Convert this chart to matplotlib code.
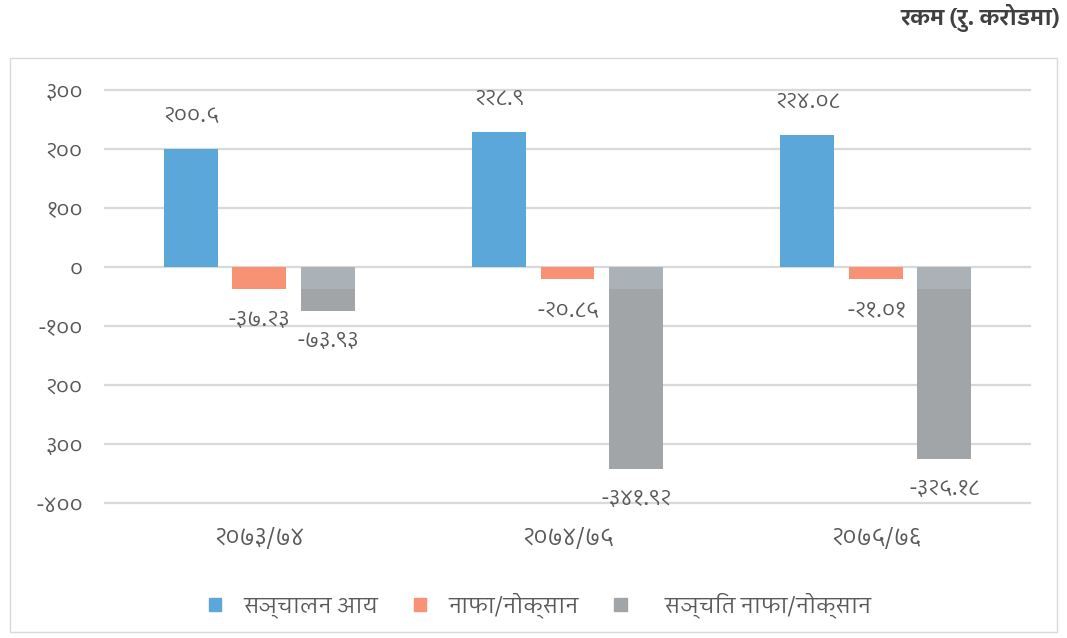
import numpy as np
import matplotlib
matplotlib.use("Agg")
import matplotlib.pyplot as plt
from matplotlib import font_manager
from matplotlib.ft2font import FT2Font
from matplotlib.patches import Rectangle

# Data (रु. करोड)
years = ["२०७३/७४", "२०७४/७५", "२०७५/७६"]
operating_income = [200.5, 228.9, 224.08]
profit_loss = [-37.23, -20.85, -21.01]
cumulative_pl = [-73.93, -341.92, -325.18]
income_labels = ["२००.५", "२२८.९", "२२४.०८"]
pl_labels = ["-३७.२३", "-२०.८५", "-२१.०१"]
cum_labels = ["-७३.९३", "-३४१.९२", "-३२५.१८"]
cum_top_band = [-37, -37, -37]   # lighter top part of the grey bars

yticks = [300, 200, 100, 0, -100, -200, -300, -400]
ytick_labels = ["३००", "२००", "१००", "०", "-१००", "२००", "३००", "-४००"]
legend_names = ["सञ्चालन आय", "नाफा/नोक्सान", "   सञ्चित नाफा/नोक्सान"]
unit_text = "रकम (रु. करोडमा)"

# installed fonts that have Devanagari glyphs, prefer proportional sans
cands = {}
for f in font_manager.fontManager.ttflist:
    try:
        if ord("क") in FT2Font(f.fname).get_charmap():
            cands[f.name] = f.fname
    except Exception:
        pass


def score(name):
    n = name.lower()
    s = 0
    if "mono" in n:
        s -= 10
    if "sans" in n:
        s += 3
    if "devanagari" in n:
        s += 5
    if "ui" in n:
        s -= 1
    return s


names = sorted(cands, key=score, reverse=True)
families = names[:1] + ["DejaVu Sans"]
plt.rcParams["font.family"] = families

blue = "#5BA7DA"
orange = "#F79274"
grey = "#A1A5A8"
grey_light = "#ABB2B7"
text_col = "#595959"

W, H = 1067, 638
fig = plt.figure(figsize=(W / 100, H / 100), dpi=100)
fig.patches.append(Rectangle((10 / W, 1 - 632 / H), 1047 / W, 574 / H,
                             transform=fig.transFigure, fill=False,
                             edgecolor="#D9D9D9", lw=1))
ax = fig.add_axes([105 / W, 1 - 503 / H, 925 / W, 413 / H])

x = np.arange(len(years))
bw = 0.175
off = 0.222
ax.bar(x - off, operating_income, bw, color=blue, zorder=3)
ax.bar(x, profit_loss, bw, color=orange, zorder=3)
ax.bar(x + off, cumulative_pl, bw, color=grey, zorder=3)
ax.bar(x + off, cum_top_band, bw, color=grey_light, zorder=3)

for i in range(len(years)):
    ax.annotate(income_labels[i], (x[i] - off, operating_income[i]), xytext=(0, 24),
                textcoords="offset points", ha="center", va="center",
                fontsize=16, color=text_col)
    ax.annotate(pl_labels[i], (x[i], profit_loss[i]), xytext=(0, -22),
                textcoords="offset points", ha="center", va="center",
                fontsize=16, color=text_col)
    ax.annotate(cum_labels[i], (x[i] + off, cumulative_pl[i]), xytext=(0, -22),
                textcoords="offset points", ha="center", va="center",
                fontsize=16, color=text_col)

for t in yticks:
    ax.axhline(t, color="#D9D9D9", lw=1.6, zorder=1, clip_on=False)

ax.set_xlim(-0.5, len(years) - 0.5)
ax.set_ylim(-400, 300)
ax.set_yticks(yticks)
ax.set_yticklabels(ytick_labels, fontsize=16, color=text_col)
ax.set_xticks(x)
ax.set_xticklabels(years, fontsize=17, color=text_col)
ax.tick_params(length=0, axis="y", pad=16)
ax.tick_params(length=0, axis="x", pad=17)
for s in ax.spines.values():
    s.set_visible(False)

handles = [Rectangle((0, 0), 1, 1, color=c) for c in (blue, orange, grey)]
fig.legend(handles, legend_names, loc="center", bbox_to_anchor=(540 / W, 1 - 605 / H),
           ncol=3, frameon=False, fontsize=16, handlelength=0.55, handleheight=0.55,
           handletextpad=1.0, columnspacing=1.6, labelcolor=text_col)

fig.text(1060 / W, 1 - 18 / H, unit_text, ha="right", va="center",
         fontsize=16, fontweight="bold", color="#404040")

fig.savefig("out.png", dpi=100)
